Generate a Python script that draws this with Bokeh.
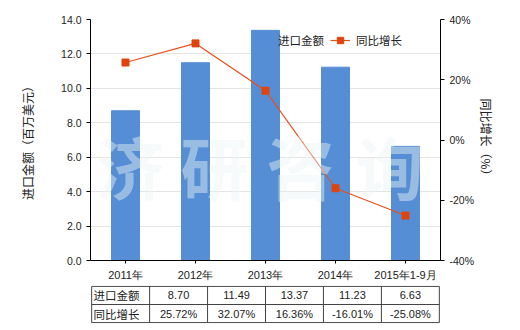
import math
from bokeh.plotting import figure
from bokeh.models import (ColumnDataSource, Range1d, LinearAxis, FixedTicker,
                          PrintfTickFormatter, Label, Legend, LegendItem, Title)
from bokeh.layouts import column
from bokeh.core.properties import value
from bokeh.embed import file_html
from bokeh.resources import INLINE

categories = ["2011年", "2012年", "2013年", "2014年", "2015年1-9月"]
import_values = [8.70, 11.49, 13.37, 11.23, 6.63]
growth_pct = [25.72, 32.07, 16.36, -16.01, -25.08]
import_labels = ["8.70", "11.49", "13.37", "11.23", "6.63"]
growth_labels = ["25.72%", "32.07%", "16.36%", "-16.01%", "-25.08%"]
row_names = ["进口金额", "同比增长"]
left_ticks = [0, 2, 4, 6, 8, 10, 12, 14]
right_ticks = [-40, -20, 0, 20, 40]

CJK = "Noto Sans CJK SC"
NUM = "Liberation Sans"
BAR = "#558ed5"
LINE = "#e8501e"

src = ColumnDataSource(dict(cat=categories, v=import_values, g=growth_pct))

p = figure(x_range=categories, y_range=Range1d(0, 14), width=520, height=285,
           output_backend="svg", toolbar_location=None,
           min_border_left=90, min_border_right=80, min_border_top=19,
           min_border_bottom=25)
p.outline_line_color = None
p.background_fill_color = "white"
p.extra_y_ranges = {"pct": Range1d(-40, 40)}

p.xgrid.grid_line_color = None
p.ygrid.grid_line_color = "#e4e4e4"
p.ygrid.ticker = FixedTicker(ticks=left_ticks)

bars = p.vbar(x="cat", top="v", width=0.4, source=src, color=BAR)
ln = p.line(x="cat", y="g", source=src, y_range_name="pct", color=LINE, line_width=1.2)
mk = p.scatter(x="cat", y="g", source=src, y_range_name="pct", marker="square",
               size=7, color="#e0440e")

# watermark
for ch, xs in zip("济研咨询", [40, 124, 210, 299]):
    p.add_layout(Label(x=xs, y=95, x_units="screen", y_units="screen", text=ch,
                       text_font=CJK, text_font_size="68px", text_font_style="bold",
                       text_color="#eef3f3", text_alpha=0.45, text_align="center",
                       text_baseline="middle"))

# left axis
ya = p.yaxis[0]
ya.ticker = FixedTicker(ticks=left_ticks)
ya.formatter = PrintfTickFormatter(format="%.1f")
ya.axis_label = "进口金额（百万美元）"
ya.axis_label_text_font = CJK
ya.axis_label_text_font_size = "12px"
ya.axis_label_text_font_style = "normal"
ya.axis_label_text_color = "#222222"
ya.axis_label_standoff = 22
ya.major_label_text_font = NUM
ya.major_label_text_font_size = "10.5px"
ya.major_label_text_color = "#222222"
ya.major_tick_in = 0
ya.major_tick_out = 4
ya.minor_tick_line_color = None
ya.axis_line_color = "black"
ya.major_tick_line_color = "black"

# right axis
ra = LinearAxis(y_range_name="pct", ticker=FixedTicker(ticks=right_ticks),
                formatter=PrintfTickFormatter(format="%d%%"))
ra.major_label_text_font = NUM
ra.major_label_text_font_size = "10.5px"
ra.major_label_text_color = "#222222"
ra.major_tick_in = 0
ra.major_tick_out = 4
ra.minor_tick_line_color = None
ra.axis_line_color = "black"
p.add_layout(ra, "right")

# right axis title (reads top to bottom)
p.add_layout(Title(text="同比增长（%）", align="center", text_font=CJK,
                   text_font_size="12px", text_font_style="normal",
                   text_color="#222222", standoff=0, offset=0), "right")

# bottom axis
xa = p.xaxis[0]
xa.major_label_text_font = NUM
xa.major_label_text_font_size = "11px"
xa.major_label_text_color = "#222222"
xa.major_tick_in = 0
xa.major_tick_out = 3
xa.axis_line_color = "black"
xa.major_label_standoff = 5

legend = Legend(items=[LegendItem(label="进口金额", renderers=[bars]),
                       LegendItem(label="同比增长", renderers=[ln, mk])],
                orientation="horizontal", location=(162, 212),
                background_fill_alpha=0, border_line_alpha=0,
                label_text_font=CJK, label_text_font_size="11.5px",
                label_text_color="#222222", glyph_width=20, glyph_height=16,
                label_standoff=6, spacing=6, padding=0, margin=0)
p.add_layout(legend)

# table
t = figure(x_range=Range1d(-1.02, 5.02), y_range=Range1d(-0.05, 2.05), width=520,
           height=45, output_backend="svg", toolbar_location=None,
           min_border_left=19, min_border_right=79, min_border_top=0,
           min_border_bottom=7)
t.axis.visible = False
t.grid.visible = False
t.outline_line_color = None

n = len(categories)
xs_h = [[-1, n], [-1, n], [-1, n]]
ys_h = [[0, 0], [1, 1], [2, 2]]
t.multi_line(xs=xs_h, ys=ys_h, line_color="#444444", line_width=1)
xs_v = [[k, k] for k in range(-1, n + 1)]
ys_v = [[0, 2] for _ in range(-1, n + 1)]
t.multi_line(xs=xs_v, ys=ys_v, line_color="#444444", line_width=1)

cx = [i + 0.5 for i in range(n)]
tsrc = ColumnDataSource(dict(x=cx + cx, y=[1.5] * n + [0.5] * n,
                             txt=import_labels + growth_labels))
t.text(x="x", y="y", text="txt", source=tsrc, text_align="center",
       text_baseline="middle", text_font=value(NUM), text_font_size="11px",
       text_color="#222222")
nsrc = ColumnDataSource(dict(x=[-0.97, -0.97], y=[1.5, 0.5], txt=row_names))
t.text(x="x", y="y", text="txt", source=nsrc, text_align="left",
       text_baseline="middle", text_font=value(CJK), text_font_size="11.5px",
       text_color="#222222")

layout = column(p, t, spacing=0)
open("out.html", "w").write(file_html(layout, INLINE))
